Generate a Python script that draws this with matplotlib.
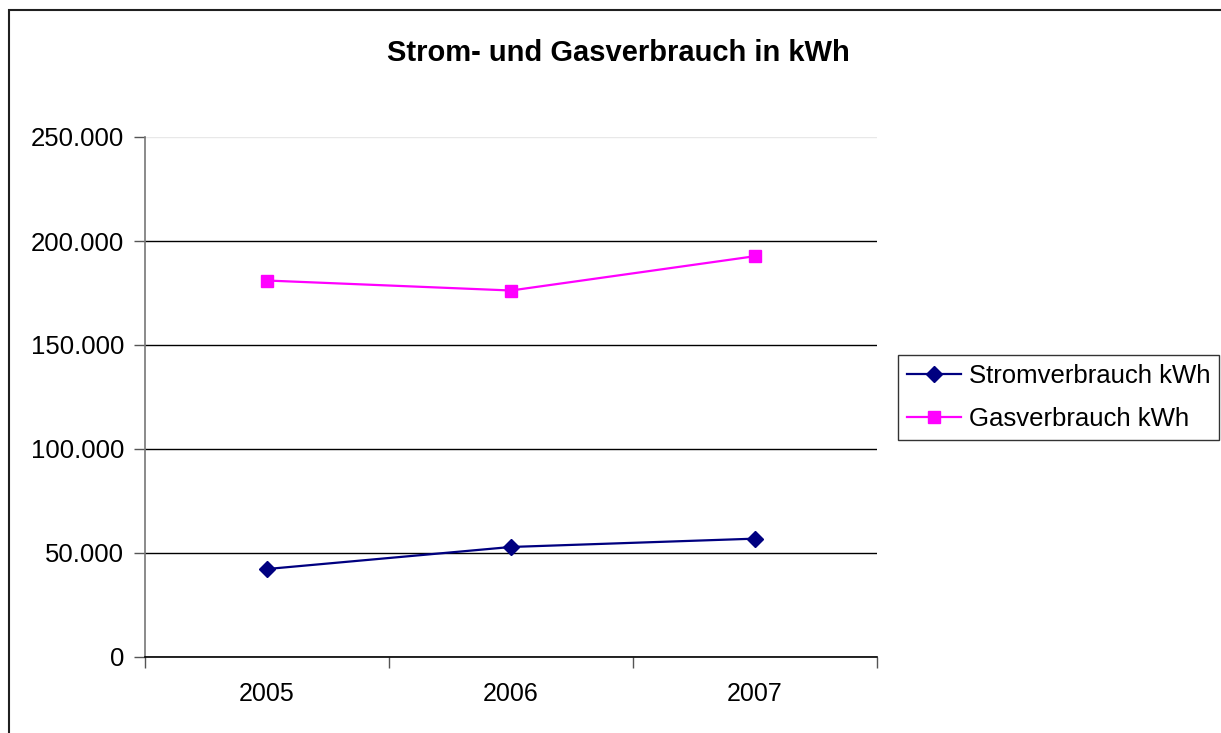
import matplotlib
matplotlib.use("Agg")
import matplotlib.pyplot as plt
from matplotlib.ticker import FuncFormatter, FixedLocator
from matplotlib.patches import Rectangle

# data
years = ['2005', '2006', '2007']
strom_kwh = [42300, 52900, 56900]
gas_kwh = [181000, 176200, 192700]
y_ticks = [0, 50000, 100000, 150000, 200000, 250000]

W, H = 1221, 733
plt.rcParams['font.family'] = ['Liberation Sans', 'DejaVu Sans']

fig = plt.figure(figsize=(W / 100, H / 100), dpi=100)

# outer chart border (open to the right/bottom like the cropped screenshot)
fig.patches.append(Rectangle((9 / W, -0.1), 1.2, (H - 10) / H + 0.1,
                             transform=fig.transFigure, fill=False,
                             edgecolor='#202020', linewidth=1.5))

ax = fig.add_axes([145 / W, (H - 657) / H, 732 / W, 520 / H])

x = list(range(len(years)))
ax.plot(x, strom_kwh, '-D', color='#000080', linewidth=1.6, markersize=8,
        label='Stromverbrauch kWh', zorder=3)
ax.plot(x, gas_kwh, '-s', color='#FF00FF', linewidth=1.6, markersize=8,
        label='Gasverbrauch kWh', zorder=3)

ax.set_xlim(-0.5, len(years) - 0.5)
ax.set_ylim(0, 250000)

ax.set_xticks(x)
ax.set_xticklabels(years)
ax.xaxis.set_minor_locator(FixedLocator([i - 0.5 for i in range(len(years) + 1)]))
ax.tick_params(axis='x', which='major', length=0, pad=18, labelsize=18)
ax.tick_params(axis='x', which='minor', length=8, color='#555555', width=1)

ax.set_yticks(y_ticks)
ax.yaxis.set_major_formatter(FuncFormatter(lambda v, p: f"{int(v):,}".replace(',', '.')))
ax.tick_params(axis='y', length=8, color='#555555', width=1, pad=7, labelsize=18.5)

ax.yaxis.grid(True, color='black', linewidth=1)
ax.set_axisbelow(True)
gl = ax.get_ygridlines()
gl[-1].set_color('#e8e8e8')

for s in ['top', 'right']:
    ax.spines[s].set_visible(False)
ax.spines['left'].set_color('#777777')
ax.spines['left'].set_linewidth(1.2)
ax.spines['bottom'].set_color('black')
ax.spines['bottom'].set_linewidth(1.2)

fig.text(618 / W, 1 - 53 / H, 'Strom- und Gasverbrauch in kWh',
         ha='center', va='center', fontsize=21, fontweight='bold')

leg = fig.legend(loc='upper left', bbox_to_anchor=(898 / W, 1 - 355 / H),
                 fontsize=18.5, frameon=True, fancybox=False, handlelength=2.1,
                 handletextpad=0.3, borderpad=0.35, labelspacing=0.75,
                 borderaxespad=0)
leg.get_frame().set_edgecolor('black')
leg.get_frame().set_linewidth(1)

fig.savefig('out.png', dpi=100)
